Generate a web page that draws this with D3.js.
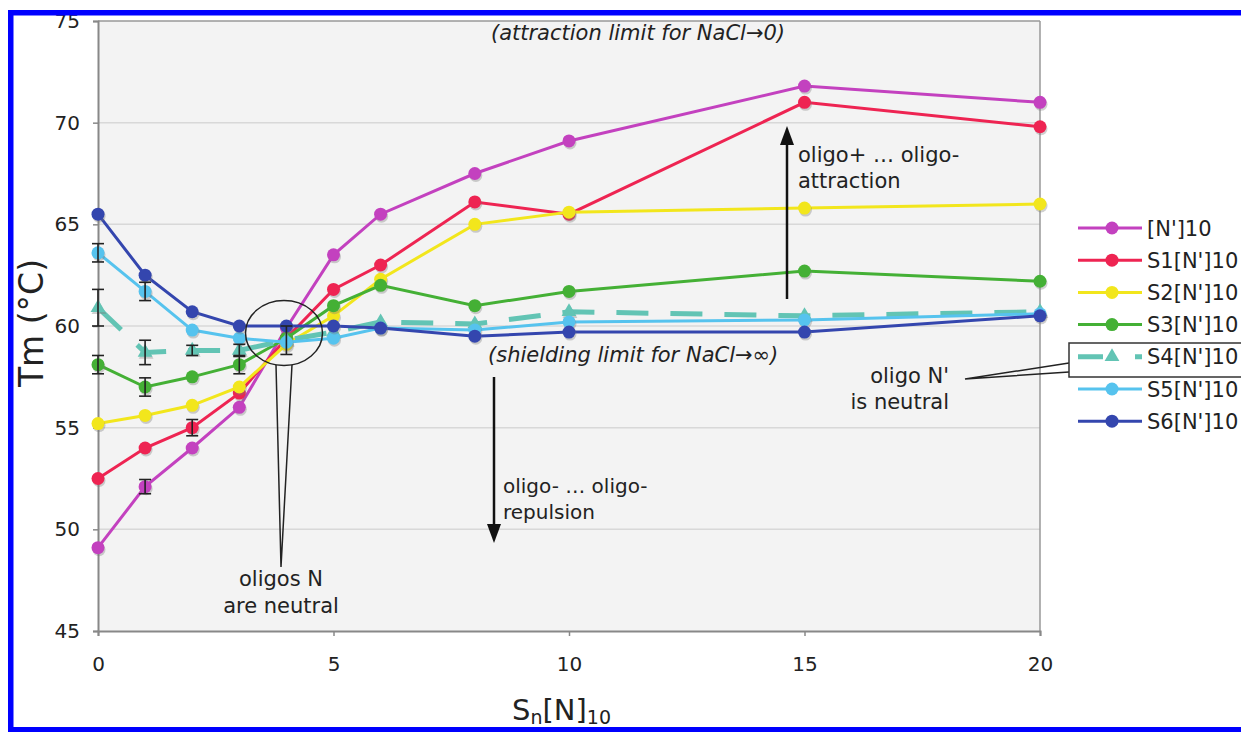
<!DOCTYPE html>
<html><head><meta charset="utf-8">
<script src="https://cdn.jsdelivr.net/npm/d3@7"></script>
<style>
body{margin:0;background:#fff;}
svg{display:block;}
text{font-family:"DejaVu Sans",Verdana,sans-serif;fill:#222;}
</style>
</head><body>
<svg id="c" width="1241" height="732"></svg>
<script>
// ---------- data ----------
const xValues = [0, 1, 2, 3, 4, 5, 6, 8, 10, 15, 20];
const seriesNames = ["[N']10", "S1[N']10", "S2[N']10", "S3[N']10", "S4[N']10", "S5[N']10", "S6[N']10"];
const valsN10 = [49.1, 52.1, 54.0, 56.0, 59.9, 63.5, 65.5, 67.5, 69.1, 71.8, 71.0];
const valsS1  = [52.5, 54.0, 55.0, 56.7, 59.4, 61.8, 63.0, 66.1, 65.5, 71.0, 69.8];
const valsS2  = [55.2, 55.6, 56.1, 57.0, 59.1, 60.5, 62.3, 65.0, 65.6, 65.8, 66.0];
const valsS3  = [58.1, 57.0, 57.5, 58.1, 59.4, 61.0, 62.0, 61.0, 61.7, 62.7, 62.2];
const valsS4  = [60.9, 58.7, 58.8, 58.8, 59.3, 59.7, 60.2, 60.1, 60.7, 60.5, 60.7];
const valsS5  = [63.6, 61.7, 59.8, 59.4, 59.2, 59.4, 59.9, 59.8, 60.2, 60.3, 60.6];
const valsS6  = [65.5, 62.5, 60.7, 60.0, 60.0, 60.0, 59.9, 59.5, 59.7, 59.7, 60.5];
// symmetric error bars (0 = none shown)
const errN10 = [0, 0.35, 0, 0, 0, 0, 0, 0, 0, 0, 0];
const errS1  = [0, 0, 0.4, 0, 0, 0, 0, 0, 0, 0, 0];
const errS2  = [0, 0, 0, 0, 0, 0, 0, 0, 0, 0, 0];
const errS3  = [0.45, 0.45, 0, 0.45, 0, 0, 0, 0, 0, 0, 0];
const errS4  = [0.9, 0.6, 0.25, 0.3, 0.7, 0, 0, 0, 0, 0, 0];
const errS5  = [0.45, 0.45, 0, 0, 0, 0, 0, 0, 0, 0, 0];
const errS6  = [0, 0, 0, 0, 0, 0, 0, 0, 0, 0, 0];
const xTicks = [0, 5, 10, 15, 20];
const yTicks = [45, 50, 55, 60, 65, 70, 75];

const colors = ["#c341bf", "#ee2452", "#f2e61c", "#44b035", "#62c4b4", "#56c3ee", "#3446ae"];
const allVals = [valsN10, valsS1, valsS2, valsS3, valsS4, valsS5, valsS6];
const allErr = [errN10, errS1, errS2, errS3, errS4, errS5, errS6];
const series = seriesNames.map((n, i) => ({
  name: n, color: colors[i], dashed: i === 4, tri: i === 4,
  pts: xValues.map((xv, j) => ({x: xv, y: allVals[i][j], e: allErr[i][j]}))
}));

// ---------- layout ----------
const svg = d3.select("#c");
const x = d3.scaleLinear().domain([0, 20]).range([98, 1040]);
const y = d3.scaleLinear().domain([45, 75]).range([631, 21]);

// plot background
svg.append("rect").attr("x", x(0)).attr("y", y(75)).attr("width", x(20) - x(0)).attr("height", y(45) - y(75))
  .attr("fill", "#f3f3f3");

// gridlines
svg.append("g").selectAll("line").data(yTicks.filter(t => t > 45 && t < 75)).join("line")
  .attr("x1", x(0)).attr("x2", x(20)).attr("y1", d => y(d)).attr("y2", d => y(d))
  .attr("stroke", "#d8d8d8").attr("stroke-width", 1.5);

// frame top + right
svg.append("line").attr("x1", x(0)).attr("x2", x(20)).attr("y1", y(75)).attr("y2", y(75))
  .attr("stroke", "#999").attr("stroke-width", 1.5);
svg.append("line").attr("x1", x(20)).attr("x2", x(20)).attr("y1", y(75)).attr("y2", y(45))
  .attr("stroke", "#999").attr("stroke-width", 1.5);

// axes
const yAxis = svg.append("g").attr("transform", `translate(${x(0)},0)`)
  .call(d3.axisLeft(y).tickValues(yTicks).tickSize(5).tickPadding(13).tickFormat(d3.format("d")));
const xAxis = svg.append("g").attr("transform", `translate(0,${y(45)})`)
  .call(d3.axisBottom(x).tickValues(xTicks).tickSize(5).tickPadding(21).tickFormat(d3.format("d")));
[yAxis, xAxis].forEach(a => {
  a.select(".domain").attr("stroke", "#888").attr("stroke-width", 2);
  a.selectAll(".tick line").attr("stroke", "#888").attr("stroke-width", 1.5);
  a.selectAll(".tick text").attr("font-size", 20).attr("fill", "#222")
    .attr("font-family", "DejaVu Sans, Verdana, sans-serif");
});

// ---------- series ----------
const line = d3.line().x(d => x(d.x)).y(d => y(d.y));
const triSym = d3.symbol().type(d3.symbolTriangle).size(95);
series.forEach(s => {
  const g = svg.append("g");
  g.append("path").datum(s.pts).attr("d", line).attr("fill", "none")
    .attr("stroke", s.color).attr("stroke-width", s.dashed ? 5 : 3)
    .attr("stroke-dasharray", s.dashed ? "32,22" : null);
  if (s.tri) {
    g.selectAll("path.sh").data(s.pts).join("path").attr("class", "sh")
      .attr("d", triSym).attr("transform", d => `translate(${x(d.x) + 1},${y(d.y) + 2})`)
      .attr("fill", "#777").attr("opacity", 0.35);
    g.selectAll("path.mk").data(s.pts).join("path").attr("class", "mk")
      .attr("d", triSym).attr("transform", d => `translate(${x(d.x)},${y(d.y)})`)
      .attr("fill", s.color);
  } else {
    g.selectAll("circle.sh").data(s.pts).join("circle").attr("class", "sh")
      .attr("cx", d => x(d.x) + 1).attr("cy", d => y(d.y) + 2).attr("r", 6.5)
      .attr("fill", "#777").attr("opacity", 0.35);
    g.selectAll("circle.mk").data(s.pts).join("circle").attr("class", "mk")
      .attr("cx", d => x(d.x)).attr("cy", d => y(d.y)).attr("r", 6.5)
      .attr("fill", s.color);
  }
});

// error bars
const eg = svg.append("g").attr("stroke", "#222").attr("stroke-width", 1.6);
series.forEach(s => {
  s.pts.filter(p => p.e > 0).forEach(p => {
    const cx = x(p.x), y1 = y(p.y + p.e), y2 = y(p.y - p.e);
    eg.append("line").attr("x1", cx).attr("x2", cx).attr("y1", y1).attr("y2", y2);
    eg.append("line").attr("x1", cx - 6).attr("x2", cx + 6).attr("y1", y1).attr("y2", y1);
    eg.append("line").attr("x1", cx - 6).attr("x2", cx + 6).attr("y1", y2).attr("y2", y2);
  });
});

// ---------- annotations ----------
const ann = svg.append("g");
ann.append("text").attr("x", 638).attr("y", 40).attr("text-anchor", "middle")
  .attr("font-size", 21).attr("font-style", "italic").text("(attraction limit for NaCl\u21920)");
ann.append("text").attr("x", 488).attr("y", 362)
  .attr("font-size", 21).attr("font-style", "italic").text("(shielding limit for NaCl\u2192\u221e)");

// up arrow
ann.append("line").attr("x1", 787).attr("x2", 787).attr("y1", 299).attr("y2", 140)
  .attr("stroke", "#111").attr("stroke-width", 2.5);
ann.append("path").attr("d", "M787,126 L780,145 L794,145 Z").attr("fill", "#111");
ann.append("text").attr("x", 798).attr("y", 162).attr("font-size", 21).text("oligo+ \u2026 oligo-");
ann.append("text").attr("x", 798).attr("y", 188).attr("font-size", 21).text("attraction");

// down arrow
ann.append("line").attr("x1", 494).attr("x2", 494).attr("y1", 377).attr("y2", 528)
  .attr("stroke", "#111").attr("stroke-width", 2.5);
ann.append("path").attr("d", "M494,543 L487,524 L501,524 Z").attr("fill", "#111");
ann.append("text").attr("x", 503).attr("y", 493).attr("font-size", 20).text("oligo- \u2026 oligo-");
ann.append("text").attr("x", 503).attr("y", 519).attr("font-size", 20).text("repulsion");

// ellipse callout
const ecx = 284, ecy = 333, erx = 38.5, ery = 32.5;
ann.append("ellipse").attr("cx", ecx).attr("cy", ecy).attr("rx", erx).attr("ry", ery)
  .attr("fill", "none").attr("stroke", "#222").attr("stroke-width", 1.5);
const wy = ecy + ery * Math.sqrt(1 - (8 / erx) ** 2);
ann.append("path").attr("d", `M${ecx - 8},${wy} L281,567 L${ecx + 8},${wy}`)
  .attr("fill", "none").attr("stroke", "#222").attr("stroke-width", 1.5);
ann.append("text").attr("x", 281).attr("y", 586).attr("text-anchor", "middle").attr("font-size", 21).text("oligos N");
ann.append("text").attr("x", 281).attr("y", 613).attr("text-anchor", "middle").attr("font-size", 21).text("are neutral");

// oligo N' callout
ann.append("text").attr("x", 949).attr("y", 383).attr("text-anchor", "end").attr("font-size", 21).text("oligo N'");
ann.append("text").attr("x", 949).attr("y", 409).attr("text-anchor", "end").attr("font-size", 21).text("is neutral");

// ---------- legend ----------
const lg = svg.append("g");
lg.append("rect").attr("x", 1069).attr("y", 343).attr("width", 200).attr("height", 34)
  .attr("fill", "#fff").attr("stroke", "#333").attr("stroke-width", 1.5);
ann.append("path").attr("d", "M1069,363 L965,379 L1069,372")
  .attr("fill", "none").attr("stroke", "#222").attr("stroke-width", 1.5);
series.forEach((s, i) => {
  const ly = 228 + i * 32.2;
  lg.append("line").attr("x1", 1078).attr("x2", 1142).attr("y1", ly).attr("y2", ly)
    .attr("stroke", s.color).attr("stroke-width", s.dashed ? 5 : 3)
    .attr("stroke-dasharray", s.dashed ? "25,32,8" : null);
  if (s.tri) {
    lg.append("path").attr("d", triSym).attr("transform", `translate(1112,${ly})`).attr("fill", s.color);
  } else {
    lg.append("circle").attr("cx", 1112).attr("cy", ly).attr("r", 6.5).attr("fill", s.color);
  }
  lg.append("text").attr("x", 1147).attr("y", ly).attr("dy", "0.36em").attr("font-size", 21).text(s.name);
});

// ---------- axis titles ----------
svg.append("text").attr("transform", "translate(43,323) rotate(-90)").attr("text-anchor", "middle")
  .attr("font-size", 33).text("Tm (\u00b0C)");
const xt = svg.append("text").attr("x", 512).attr("y", 720).attr("font-size", 29);
xt.append("tspan").text("S");
xt.append("tspan").attr("font-size", 19).attr("dy", 4).text("n");
xt.append("tspan").attr("dy", -4).text("[N]");
xt.append("tspan").attr("font-size", 19).attr("dy", 4).text("10");

// ---------- blue border ----------
const bd = svg.append("g").attr("fill", "#0000ff");
bd.append("rect").attr("x", 8).attr("y", 10).attr("width", 1233).attr("height", 5.5);
bd.append("rect").attr("x", 8).attr("y", 10).attr("width", 5.5).attr("height", 722);
bd.append("rect").attr("x", 8).attr("y", 727).attr("width", 1233).attr("height", 5);
</script>
</body></html>
